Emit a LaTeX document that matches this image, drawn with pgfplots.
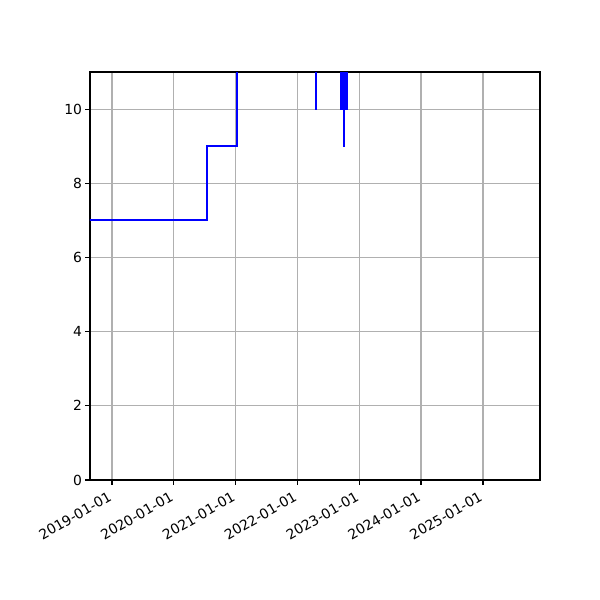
\documentclass[border=0pt]{standalone}
\usepackage{fontspec}
\setmainfont{DejaVu Sans}
\usepackage{pgfplots}
\pgfplotsset{compat=1.18}

% x values are days counted from 2019-01-01
\begin{document}
\begin{tikzpicture}
\begin{axis}[
    at={(0,0)}, anchor=south west,
    scale only axis,
    width=324pt, height=293.76pt,
    xmin=-130, xmax=2529,
    ymin=0, ymax=11,
    xtick={0,365,731,1096,1461,1826,2192},
    xticklabels={2019-01-01,2020-01-01,2021-01-01,2022-01-01,2023-01-01,2024-01-01,2025-01-01},
    ytick={0,2,4,6,8,10},
    xtick pos=left, ytick pos=left,
    tick align=outside,
    major tick length=3.5pt,
    tick style={black, line width=0.8pt},
    axis line style={line width=0.8pt},
    xmajorgrids, ymajorgrids,
    major grid style={color=black!31, line width=0.8pt},
    tick label style={font=\fontsize{10}{12}\selectfont},
    /pgf/number format/assume math mode=true,
    xticklabel style={rotate=30, anchor=north east, inner sep=2pt, xshift=-3pt},
    yticklabel style={inner sep=2pt},
]
\addplot[const plot, color=blue, line width=1.5pt, mark=none] coordinates {
    (-200,7) (561,9) (741,15)
    (1205,10) (1207,15)
    (1353,10) (1355,15) (1357,10) (1359,15) (1361,10) (1363,15)
    (1365,10) (1367,15) (1369,10) (1371,9) (1373,15) (1375,10)
    (1377,15) (1379,10) (1381,15) (1383,10) (1385,15) (1387,10)
    (1389,15) (2408,15)
};
\end{axis}
\pgfresetboundingbox
\path[use as bounding box] (-64.8pt,-86.4pt) rectangle (367.2pt,345.6pt);
\end{tikzpicture}
\end{document}
